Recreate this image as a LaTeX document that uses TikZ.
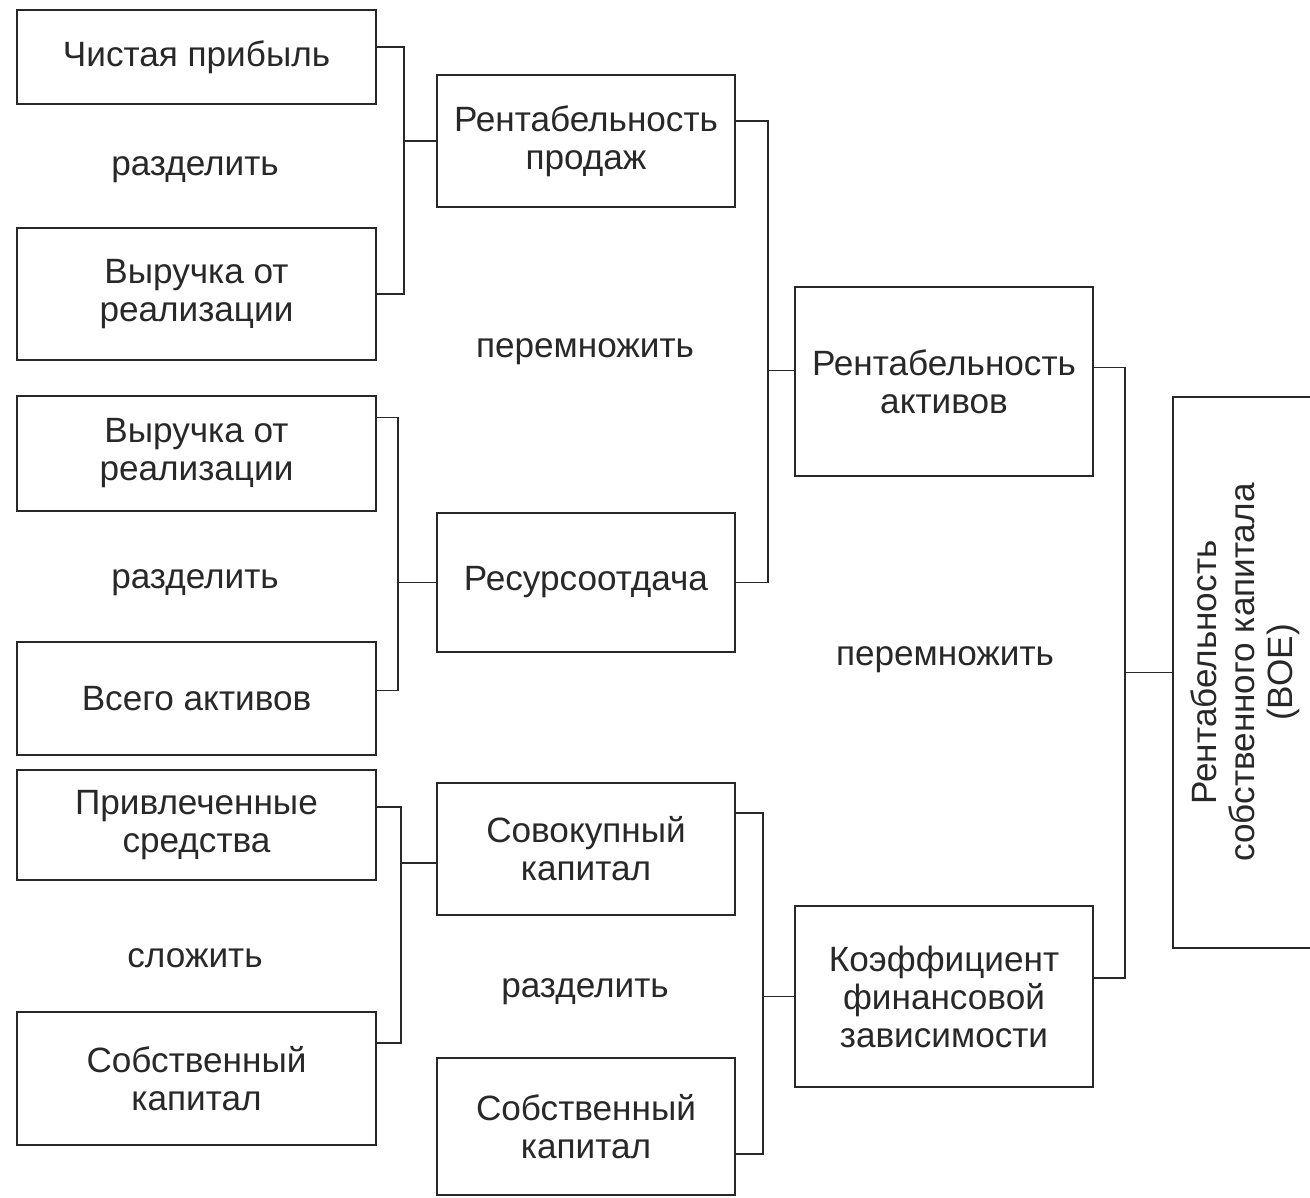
\documentclass[tikz,border=0pt]{standalone}
\usepackage{fontspec}
\setmainfont{Liberation Sans}
\usetikzlibrary{positioning}
\definecolor{dcink}{RGB}{40,40,40}

\begin{document}
\begin{tikzpicture}[font=\fontsize{20}{21.6}\selectfont,
    box/.style={draw=dcink,line width=1.3pt,align=center,text=dcink,inner sep=0pt},
    lbox/.style={box,minimum width=7.18cm},
    mbox/.style={box,minimum width=5.96cm},
    op/.style={text=dcink},
    link/.style={draw=dcink,line width=1pt}]
    \useasboundingbox (0,0) rectangle (26.2,-23.96);
    \clip (0,0) rectangle (26.2,-23.96);

    % first column
    \node[lbox,minimum height=1.88cm] (np)  at (3.93,-1.14)  {Чистая прибыль};
    \node[lbox,minimum height=2.64cm] (vr1) at (3.93,-5.88)  {Выручка от\\реализации};
    \node[lbox,minimum height=2.3cm]  (vr2) at (3.93,-9.07)  {Выручка от\\реализации};
    \node[lbox,minimum height=2.26cm] (va)  at (3.93,-13.97) {Всего активов};
    \node[lbox,minimum height=2.2cm]  (ps)  at (3.93,-16.5)  {Привлеченные\\средства};
    \node[lbox,minimum height=2.66cm] (sk1) at (3.93,-21.57) {Собственный\\капитал};

    % second column
    \node[mbox,minimum height=2.64cm] (rp)  at (11.72,-2.82)  {Рентабельность\\продаж};
    \node[mbox,minimum height=2.78cm] (ro)  at (11.72,-11.65) {Ресурсоотдача};
    \node[mbox,minimum height=2.64cm] (sov) at (11.72,-16.98) {Совокупный\\капитал};
    \node[mbox,minimum height=2.74cm] (sk2) at (11.72,-22.53) {Собственный\\капитал};

    % third column
    \node[mbox,minimum height=3.78cm] (ra)  at (18.88,-7.63)  {Рентабельность\\активов};
    \node[mbox,minimum height=3.62cm] (kfz) at (18.88,-19.93) {Коэффициент\\финансовой\\зависимости};

    \node[box,rotate=90,minimum width=11.02cm,minimum height=2.88cm] (roe) at (24.9,-13.45)
      {Рентабельность\\собственного капитала\\(ВОЕ)};

    % operations
    \node[op] (d1) at (3.9,-3.4)    {разделить};
    \node[op] (m1) at (11.7,-7.04)  {перемножить};
    \node[op] (d2) at (3.9,-11.66)  {разделить};
    \node[op] (m2) at (18.9,-13.2)  {перемножить};
    \node[op] (sl) at (3.9,-19.16)  {сложить};
    \node[op] (d3) at (11.7,-19.84) {разделить};

    % brackets
    \draw[link] ([yshift=2mm]np.east) -- ++(0.54,0) coordinate (b1) |- (vr1.east);
    \draw[link] (b1 |- rp.west) -- (rp.west);
    \draw[link] ([yshift=7.2mm]vr2.east) -- ++(0.42,0) coordinate (b3) |- ([yshift=1.6mm]va.east);
    \draw[link] (b3 |- ro.west) -- (ro.west);
    \draw[link] ([yshift=3.6mm]ps.east) -- ++(0.48,0) coordinate (b5) |- ([yshift=7.1mm]sk1.east);
    \draw[link] ([yshift=-2.8mm]sov.west -| b5) -- ([yshift=-2.8mm]sov.west);

    \draw[link] ([yshift=4mm]rp.east) -- ++(0.64,0) coordinate (b2) |- (ro.east);
    \draw[link] ([yshift=2.2mm]ra.west -| b2) -- ([yshift=2.2mm]ra.west);
    \draw[link] ([yshift=7.2mm]sov.east) -- ++(0.54,0) coordinate (b6) |- ([yshift=-5.5mm]sk2.east);
    \draw[link] (b6 |- kfz.west) -- (kfz.west);

    \draw[link] ([yshift=2.8mm]ra.east) -- ++(0.62,0) coordinate (b4) |- ([yshift=3.7mm]kfz.east);
    \draw[link] (b4 |- roe.north) -- (roe.north);
\end{tikzpicture}
\end{document}
